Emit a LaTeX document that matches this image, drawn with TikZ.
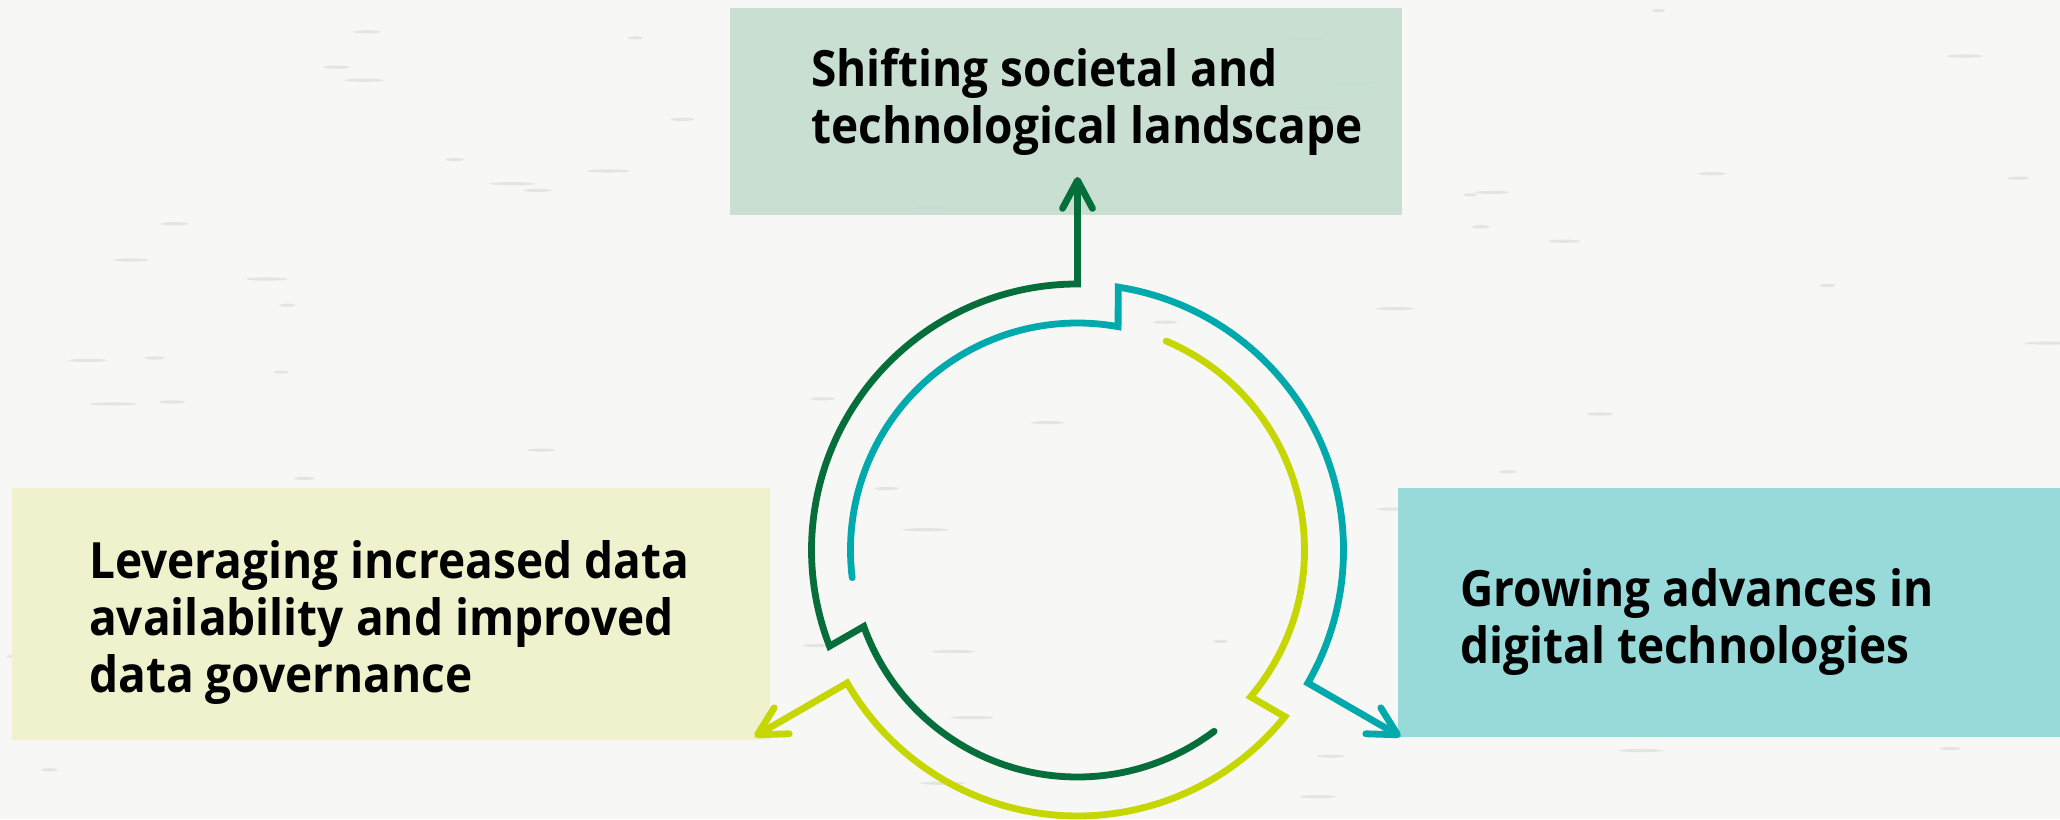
\documentclass[tikz,border=0pt]{standalone}
\usepackage{fontspec}
\setmainfont{Open Sans}[FakeStretch=0.92]
\usetikzlibrary{arrows.meta}
\definecolor{bg}{HTML}{F7F7F5}
\definecolor{dkgreen}{HTML}{066E3A}
\definecolor{teal}{HTML}{00A9AB}
\definecolor{lime}{HTML}{C5D600}
\definecolor{topfill}{HTML}{C4DDD0}
\definecolor{leftfill}{HTML}{F0F2CB}
\definecolor{rightfill}{HTML}{97DAD9}
\definecolor{streak}{HTML}{C8C8C4}
\begin{document}
\begin{tikzpicture}[x=1pt,y=1pt,
  flow/.style={line width=6.8pt, line cap=round, line join=miter,
    -{Straight Barb[round,length=28pt,width=30pt]}},
  box/.style={draw=none, inner sep=0pt, outer sep=0pt, anchor=south west},
  lbl/.style={anchor=base west, align=left, inner sep=0pt, text=black,
    font=\fontsize{50}{57}\selectfont\bfseries}]
\useasboundingbox (0,0) rectangle (2060,819);
\fill[bg] (0,0) rectangle (2060,819);
% faint texture streaks
\pgfmathsetseed{7}
\foreach \i in {1,...,70}{
  \pgfmathsetmacro{\sx}{rnd*2040+10}
  \pgfmathsetmacro{\sy}{rnd*800+10}
  \pgfmathsetmacro{\sl}{rnd*18+6}
  \fill[streak, opacity=0.4] (\sx,\sy) ellipse [x radius=\sl, y radius=1.6];
}
% boxes
\node[box, fill=topfill, opacity=0.92, minimum width=672pt, minimum height=207pt] (topbox) at (730,604) {};
\node[box, fill=leftfill, opacity=0.92, minimum width=758pt, minimum height=252pt] (leftbox) at (12,79) {};
\node[box, fill=rightfill, minimum width=662pt, minimum height=249pt] (rightbox) at (1398,82) {};
% labels (anchored at baseline of last line)
\node[lbl] (toplbl) at (811,675) {Shifting societal and\\technological landscape};
\node[lbl] (leftlbl) at (89,126) {Leveraging increased data\\availability and improved\\data governance};
\node[lbl] (rightlbl) at (1460,155) {Growing advances in\\digital technologies};
% cycle
\coordinate (C) at (1077.5,269);
\coordinate (tipG) at (1077.5,642);
\coordinate (tipT) at (1400.5,82.5);
\coordinate (tipY) at (754.5,82.5);
\draw[flow, dkgreen] ([shift={(-53:227)}]C) arc[start angle=-53, end angle=-160.3, radius=227]
  -- ([shift={(-158.8:266)}]C) arc[start angle=-158.8, end angle=-270, radius=266] -- (tipG);
\draw[flow, teal] ([shift={(187:227)}]C) arc[start angle=187, end angle=79.7, radius=227]
  -- ([shift={(81.2:266)}]C) arc[start angle=81.2, end angle=-30, radius=266] -- (tipT);
\draw[flow, lime] ([shift={(67:227)}]C) arc[start angle=67, end angle=-40.3, radius=227]
  -- ([shift={(-38.8:266)}]C) arc[start angle=-38.8, end angle=-150, radius=266] -- (tipY);
\end{tikzpicture}
\end{document}
